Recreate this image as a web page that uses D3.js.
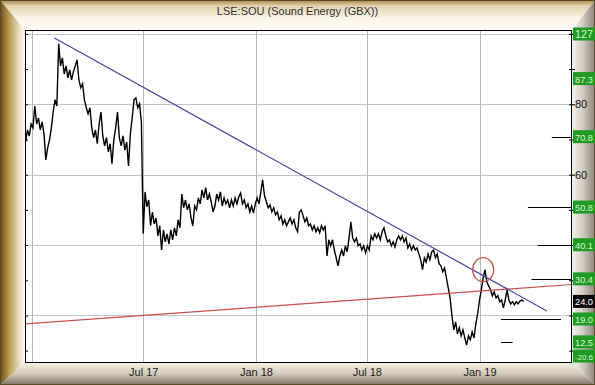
<!DOCTYPE html>
<html>
<head>
<meta charset="utf-8">
<script src="https://cdn.jsdelivr.net/npm/d3@7"></script>
<style>
  body { margin: 0; background: #fff; }
  svg { display: block; font-family: "Liberation Sans", Arial, sans-serif; }
</style>
</head>
<body>
<svg id="chart" width="595" height="385"></svg>
<script>
var title = 'LSE:SOU (Sound Energy (GBX))';

// closing prices, one every 3 days from the start date
var startDate = '2016-12-21';
var stepDays = 3;
var prices = [
  69.3, 72.7, 71.0, 74.4, 73.3, 79.5, 74.4, 76.1, 72.7, 75.0,
  71.6, 64.2, 67.6, 69.9, 73.3, 77.8, 81.3, 79.5, 97.2, 90.9,
  93.2, 88.6, 90.9, 87.5, 89.8, 86.9, 89.2, 90.9, 92.6, 86.9,
  84.7, 85.8, 81.3, 79.0, 77.3, 79.0, 73.3, 70.5, 72.7, 68.8,
  74.4, 77.8, 71.0, 68.2, 70.5, 66.5, 68.8, 63.1, 69.9, 73.3,
  77.8, 70.5, 68.2, 71.0, 67.0, 69.3, 62.5, 71.6, 76.1, 81.3,
  81.8, 79.0, 80.1, 75.0, 43.2, 55.1, 50.9, 52.8, 45.5, 49.4,
  46.0, 47.7, 42.6, 45.5, 38.6, 44.3, 40.9, 43.2, 40.3, 44.3,
  41.5, 44.9, 42.6, 47.2, 44.9, 54.5, 50.6, 52.8, 50.0, 51.7,
  47.7, 45.5, 51.1, 50.0, 53.4, 51.7, 55.7, 53.4, 56.3, 52.8,
  54.5, 52.3, 49.4, 51.1, 54.5, 52.8, 55.1, 51.1, 53.4, 51.7,
  52.8, 50.6, 52.8, 51.1, 53.4, 51.7, 53.7, 54.8, 51.7, 52.8,
  50.6, 51.7, 49.4, 51.1, 49.1, 51.7, 53.4, 51.7, 55.1, 58.5,
  54.0, 52.3, 50.6, 51.4, 49.4, 50.6, 48.6, 49.4, 47.2, 48.3,
  46.0, 47.2, 45.5, 46.6, 47.7, 46.0, 47.2, 44.9, 43.8, 49.4,
  50.0, 48.3, 46.6, 47.7, 45.5, 46.0, 44.3, 45.5, 43.8, 44.9,
  43.5, 45.5, 44.3, 45.5, 36.9, 41.5, 39.8, 41.5, 38.6, 36.4,
  34.1, 36.9, 38.6, 36.9, 39.8, 38.1, 42.0, 46.6, 42.0, 40.9,
  42.0, 39.8, 40.3, 38.6, 39.8, 37.8, 39.8, 38.6, 42.6, 41.5,
  43.2, 42.0, 43.2, 41.5, 43.8, 44.9, 42.6, 40.9, 41.5, 39.8,
  40.9, 39.5, 41.5, 42.6, 41.5, 42.6, 40.9, 42.0, 39.2, 40.3,
  38.6, 39.8, 38.6, 39.2, 37.5, 35.8, 33.0, 36.4, 35.2, 37.5,
  35.8, 38.1, 38.6, 36.4, 37.5, 34.7, 34.1, 32.4, 33.5, 30.7,
  27.8, 25.0, 19.9, 15.9, 18.2, 14.8, 16.5, 14.2, 15.9, 13.6,
  11.6, 14.2, 13.1, 15.3, 13.6, 17.6, 20.5, 24.4, 27.3, 30.7,
  33.0, 29.5, 28.4, 27.3, 25.6, 26.7, 25.0, 25.6, 23.9, 24.4,
  22.2, 24.4, 27.3, 24.4, 23.3, 23.9, 23.0, 23.9, 23.3, 24.1,
  24.4, 24.0
];

var xDomain = ['2016-12-20', '2019-06-01'];
var yDomain = [6.5, 101.1];

var xTickDates = ['2017-01-01', '2017-07-01', '2018-01-01', '2018-07-01', '2019-01-01'];
var xTickLabels = ['', 'Jul 17', 'Jan 18', 'Jul 18', 'Jan 19'];
var yGridValues = [20, 40, 60, 80, 100];
var yLabelValues = [60, 80]; // the others sit under the boxed labels
var yMinorTicks = [10, 20, 30, 40, 50, 60, 70, 80, 90, 100];

// trend lines
var downTrendDates = ['2017-02-06', '2019-04-21'];
var downTrendValues = [98.8, 21.3];
var upTrendDates = ['2016-12-20', '2019-06-01'];
var upTrendValues = [17.6, 28.8];

// circled spike
var circleDate = '2019-01-07';
var circleValue = 33.0;

// target levels drawn as short horizontal lines
var targetValues = [70.8, 50.8, 40.1, 30.4, 19.0, 12.5];
var targetStarts = ['2019-04-29', '2019-03-21', '2019-04-06', '2019-03-27', '2019-02-05', '2019-02-05'];
var targetEnds = ['2019-06-01', '2019-06-01', '2019-06-01', '2019-06-01', '2019-05-14', '2019-02-24'];

// boxed labels on the right edge
var levelValues = [127, 87.3, 70.8, 50.8, 40.1, 30.4, 24.0, 19.0, 12.5, -20.6];
var levelTexts = ['127', '87.3', '70.8', '50.8', '40.1', '30.4', '24.0', '19.0', '12.5', '-20.6'];
var levelIsLast = [false, false, false, false, false, false, true, false, false, false];

var W = 595, H = 385;
var plot = { left: 25, right: 572, top: 30, bottom: 363 };

var parse = d3.timeParse('%Y-%m-%d');
var svg = d3.select('#chart');

var x = d3.scaleTime()
  .domain(xDomain.map(parse))
  .range([plot.left, plot.right]);
var y = d3.scaleLinear()
  .domain(yDomain)
  .range([plot.bottom, plot.top]);

var t0 = parse(startDate);
var series = prices.map(function (v, i) {
  return { date: d3.timeDay.offset(t0, i * stepDays), value: v };
});

// ---- frame (bevelled border) ----
var defs = svg.append('defs');
function grad(id, x1, y1, x2, y2, stops) {
  var g = defs.append('linearGradient').attr('id', id)
    .attr('x1', x1).attr('y1', y1).attr('x2', x2).attr('y2', y2);
  stops.forEach(function (s) {
    g.append('stop').attr('offset', s[0]).attr('stop-color', s[1]);
  });
}
grad('gTop', 0, 0, 0, 1, [[0, '#a3843f'], [0.2, '#e2d4b0'], [0.6, '#f9f4e6'], [1, '#fffdf8']]);
grad('gLeft', 0, 0, 1, 0, [[0, '#6a4e1c'], [0.35, '#b8974e'], [0.8, '#eee3c6'], [1, '#fbf7ec']]);
grad('gRight', 0, 0, 1, 0, [[0, '#f4f2ec'], [0.45, '#d2cec4'], [1, '#8a857a']]);
grad('gBottom', 0, 0, 0, 1, [[0, '#f3efe4'], [0.5, '#d0c9b6'], [1, '#7a7262']]);

svg.append('polygon').attr('points', [[0, 0], [W, 0], [plot.right, plot.top], [plot.left, plot.top]].join(' '))
  .attr('fill', 'url(#gTop)');
svg.append('polygon').attr('points', [[0, 0], [plot.left, plot.top], [plot.left, plot.bottom], [0, H]].join(' '))
  .attr('fill', 'url(#gLeft)');
svg.append('polygon').attr('points', [[W, 0], [W, H], [plot.right, plot.bottom], [plot.right, plot.top]].join(' '))
  .attr('fill', 'url(#gRight)');
svg.append('polygon').attr('points', [[0, H], [plot.left, plot.bottom], [plot.right, plot.bottom], [W, H]].join(' '))
  .attr('fill', 'url(#gBottom)');
svg.append('rect').attr('x', 0.5).attr('y', 0.5).attr('width', W - 1).attr('height', H - 1)
  .attr('fill', 'none').attr('stroke', '#5a4a2a');

svg.append('text')
  .attr('x', W / 2)
  .attr('y', 15)
  .attr('text-anchor', 'middle')
  .style('font-size', '11px')
  .attr('fill', '#333')
  .text(title);

// ---- plot area ----
svg.append('rect')
  .attr('x', plot.left).attr('y', plot.top)
  .attr('width', plot.right - plot.left).attr('height', plot.bottom - plot.top)
  .attr('fill', '#fff');

defs.append('clipPath').attr('id', 'clip').append('rect')
  .attr('x', plot.left).attr('y', plot.top)
  .attr('width', plot.right - plot.left).attr('height', plot.bottom - plot.top);

// grid
svg.append('g').selectAll('line').data(yGridValues).enter().append('line')
  .attr('x1', plot.left).attr('x2', plot.right)
  .attr('y1', function (d) { return Math.round(y(d)) + 0.5; })
  .attr('y2', function (d) { return Math.round(y(d)) + 0.5; })
  .attr('stroke', '#c4c4c4');
svg.append('g').selectAll('line').data(xTickDates).enter().append('line')
  .attr('y1', plot.top).attr('y2', plot.bottom)
  .attr('x1', function (d) { return Math.round(x(parse(d))) + 0.5; })
  .attr('x2', function (d) { return Math.round(x(parse(d))) + 0.5; })
  .attr('stroke', '#b8b8b8');

var content = svg.append('g').attr('clip-path', 'url(#clip)');

var line = d3.line()
  .x(function (d) { return x(d.date); })
  .y(function (d) { return y(d.value); });

content.append('path')
  .datum(series)
  .attr('d', line)
  .attr('fill', 'none')
  .attr('stroke', '#000')
  .attr('stroke-width', 1.4)
  .attr('stroke-linejoin', 'miter');

var upTrend = upTrendDates.map(function (d, i) { return { date: parse(d), value: upTrendValues[i] }; });
var downTrend = downTrendDates.map(function (d, i) { return { date: parse(d), value: downTrendValues[i] }; });

content.append('path').datum(upTrend).attr('d', line)
  .attr('fill', 'none').attr('stroke', '#c8504a').attr('stroke-width', 1.2);
content.append('path').datum(downTrend).attr('d', line)
  .attr('fill', 'none').attr('stroke', '#4646a0').attr('stroke-width', 1.2);

content.append('ellipse')
  .attr('cx', x(parse(circleDate)))
  .attr('cy', y(circleValue))
  .attr('rx', 10.5).attr('ry', 12)
  .attr('fill', 'none')
  .attr('stroke', '#c8504a')
  .attr('stroke-width', 1.2);

svg.append('g').selectAll('line').data(targetValues).enter().append('line')
  .attr('x1', function (d, i) { return x(parse(targetStarts[i])); })
  .attr('x2', function (d, i) { return x(parse(targetEnds[i])); })
  .attr('y1', function (d) { return Math.round(y(d)) + 0.5; })
  .attr('y2', function (d) { return Math.round(y(d)) + 0.5; })
  .attr('stroke', '#000');

svg.append('rect')
  .attr('x', plot.left + 0.5).attr('y', plot.top + 0.5)
  .attr('width', plot.right - plot.left - 1).attr('height', plot.bottom - plot.top - 1)
  .attr('fill', 'none').attr('stroke', '#000');

// ---- axes ----
svg.append('g')
  .attr('transform', 'translate(' + plot.left + ',0)')
  .call(d3.axisRight(y).tickValues(yMinorTicks).tickSize(3).tickFormat(''))
  .call(function (g) { g.select('.domain').remove(); });

svg.append('g')
  .attr('transform', 'translate(' + (plot.right - 3) + ',0)')
  .call(d3.axisRight(y).tickValues(yMinorTicks).tickSize(6).tickFormat(''))
  .call(function (g) { g.select('.domain').remove(); });

svg.append('g')
  .attr('transform', 'translate(' + (plot.right + 1) + ',0)')
  .call(d3.axisRight(y).tickValues(yLabelValues).tickSize(0).tickPadding(2))
  .call(function (g) {
    g.select('.domain').remove();
    g.selectAll('text').style('font-size', '11px').attr('fill', '#111');
  });

svg.append('g')
  .attr('transform', 'translate(0,' + plot.bottom + ')')
  .call(d3.axisBottom(x).tickValues(xTickDates.map(parse)).tickSize(0).tickPadding(5)
    .tickFormat(function (d, i) { return xTickLabels[i]; }))
  .call(function (g) {
    g.select('.domain').remove();
    g.selectAll('text').style('font-size', '11px').attr('fill', '#222');
  });

// ---- level labels on the right ----
var lab = svg.append('g').selectAll('g').data(levelValues).enter().append('g')
  .attr('transform', function (d) {
    var cy = Math.max(plot.top + 4, Math.min(plot.bottom - 7, y(d)));
    return 'translate(' + (plot.right + 1) + ',' + cy + ')';
  });
lab.append('rect')
  .attr('x', 0).attr('y', -6.5)
  .attr('width', W - plot.right).attr('height', 13)
  .attr('fill', function (d, i) { return levelIsLast[i] ? '#0a0a0a' : '#1f9a22'; });
lab.append('text')
  .attr('x', 2).attr('y', 4)
  .style('font-size', '11px')
  .attr('fill', function (d, i) { return levelIsLast[i] ? '#fff' : '#d8f5d0'; })
  .text(function (d, i) { return levelTexts[i]; })
  .each(function () {
    // shrink labels that would run past the window edge
    var room = W - plot.right - 5;
    var w = this.getComputedTextLength();
    if (w > room) {
      d3.select(this).style('font-size', (11 * room / w).toFixed(2) + 'px');
    }
  });
</script>
</body>
</html>
